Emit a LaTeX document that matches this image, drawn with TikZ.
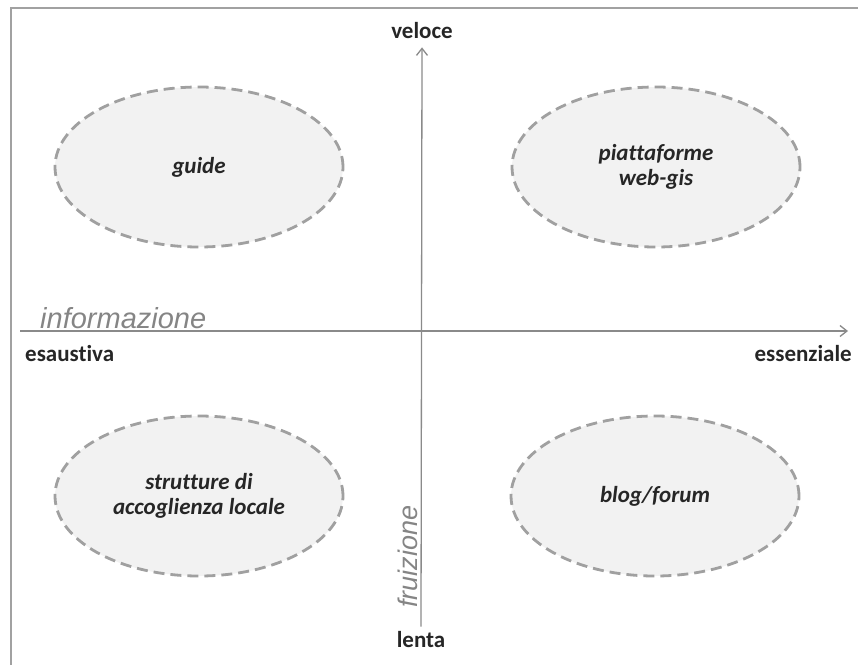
\documentclass[tikz,border=0pt]{standalone}
\usepackage{fontspec}
\setmainfont{Carlito}[Ligatures=NoCommon]
\newfontfamily\arialfont{Liberation Sans}
\usetikzlibrary{arrows.meta,shapes.geometric}
\definecolor{axisgray}{HTML}{8A8A8A}
\definecolor{dashgray}{HTML}{A0A0A0}
\definecolor{fillgray}{HTML}{F2F2F2}
\definecolor{textdark}{HTML}{262626}
\definecolor{titlegray}{HTML}{858585}
\tikzstyle{frame} = [draw=axisgray!80, line width=1.5pt]
\tikzstyle{axis} = [draw=axisgray, line width=1.3pt, -{Straight Barb[length=7pt,width=11pt]}]
\tikzstyle{quad} = [ellipse, draw=dashgray, fill=fillgray, line width=2.8pt, dash pattern=on 11pt off 6pt, minimum width=288pt, minimum height=160pt, inner sep=0pt, align=center, text=textdark, font=\fontsize{23}{25}\selectfont\bfseries\itshape]
\tikzstyle{pole} = [text=textdark, inner sep=0pt, font=\fontsize{23}{25}\selectfont\bfseries]
\tikzstyle{axtitle} = [text=titlegray, inner sep=0pt, font=\fontsize{29}{31}\selectfont\arialfont\itshape]

\begin{document}
\begin{tikzpicture}[x=1pt,y=-1pt]
    \clip (0,0) rectangle (858,664);
    \draw[frame] (11,8) rectangle (890,700);

    % quadrants
    \node (guide) [quad] at (199,167) {guide};
    \node (webgis) [quad] at (656,167) {piattaforme\\web-gis};
    \node (strutture) [quad] at (199,496) {strutture di\\accoglienza locale};
    \node (blog) [quad] at (655,496) {blog/forum};

    % poles of the axes
    \node (veloce) [pole, anchor=base] at (422,38) {veloce};
    \node (lenta) [pole, anchor=base] at (421,647) {lenta};
    \node (esaustiva) [pole, anchor=base west] at (25,361) {esaustiva};
    \node (essenziale) [pole, anchor=base east] at (852,361) {essenziale};

    \coordinate (xstart) at (20,331);
    \coordinate (xend) at (848,331);
    \draw[axis] (xstart) -- (xend);
    \draw[axis] ([yshift=4pt]lenta.north) -- ([yshift=-9pt]veloce.south);

    \node (informazione) [axtitle, anchor=base west] at (40,328) {informazione};
    \node (fruizione) [axtitle, anchor=base west, rotate=90, font=\fontsize{27}{29}\selectfont\arialfont\itshape] at (417,608) {fruizione};
\end{tikzpicture}
\end{document}
